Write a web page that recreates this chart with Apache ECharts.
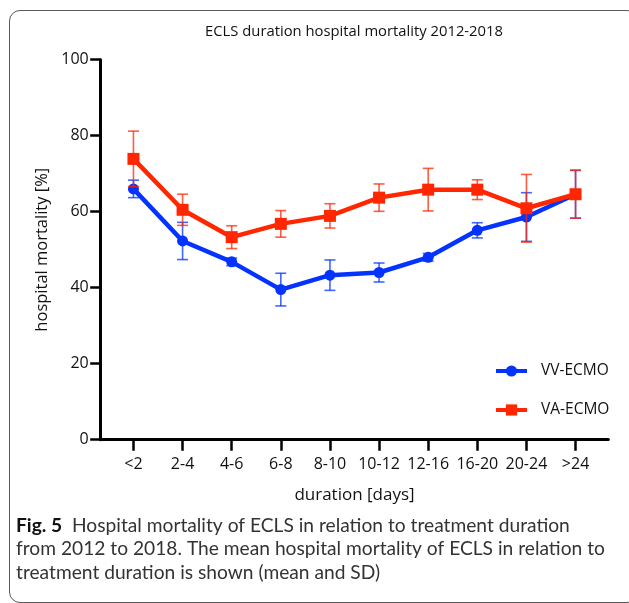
<!DOCTYPE html>
<html>
<head>
<meta charset="utf-8">
<script src="https://cdn.jsdelivr.net/npm/echarts@6/dist/echarts.min.js"></script>
<style>
  html, body { margin: 0; padding: 0; overflow: hidden; background: #fff; }
  #frame {
    position: absolute; left: 9px; top: 10px; width: 627px; height: 591px;
    border: 1.5px solid #5a5a5a; border-radius: 11px;
  }
  #chart { position: absolute; left: 0; top: 0; width: 629px; height: 603px; }
</style>
</head>
<body>
<div id="frame"></div>
<div id="chart"></div>
<script>
// duration groups on the x axis
const categories = ['<2', '2-4', '4-6', '6-8', '8-10', '10-12', '12-16', '16-20', '20-24', '>24'];

// mean hospital mortality [%] and SD per group
const vvMean = [66.0, 52.3, 46.8, 39.5, 43.3, 44.0, 48.0, 55.1, 58.6, 64.6];
const vvSd = [2.3, 4.9, 1.0, 4.3, 4.0, 2.5, 1.0, 2.0, 6.4, 6.3];
const vaMean = [73.9, 60.5, 53.3, 56.8, 58.9, 63.7, 65.8, 65.8, 60.9, 64.6];
const vaSd = [7.3, 4.1, 3.0, 3.5, 3.2, 3.6, 5.6, 2.6, 8.9, 6.3];

const yTicks = [0, 20, 40, 60, 80, 100];

const BLUE = '#0433FF';
const RED = '#FF2600';
const FONT = "'Open Sans', sans-serif";

const idx = categories.map((c, i) => i);
const toPoints = (means) => means.map((m, i) => [i, m]);
const toBars = (means, sds) => means.map((m, i) => [i, m - sds[i], m + sds[i]]);

const errorBar = (color) => (params, api) => {
  const x = api.value(0);
  const lo = api.coord([x, api.value(1)]);
  const hi = api.coord([x, api.value(2)]);
  const half = 5.5;
  const style = { stroke: color, lineWidth: 1.6 };
  return {
    type: 'group',
    children: [
      { type: 'line', shape: { x1: lo[0], y1: lo[1], x2: hi[0], y2: hi[1] }, style },
      { type: 'line', shape: { x1: lo[0] - half, y1: lo[1], x2: lo[0] + half, y2: lo[1] }, style },
      { type: 'line', shape: { x1: hi[0] - half, y1: hi[1], x2: hi[0] + half, y2: hi[1] }, style },
    ],
  };
};

const chart = echarts.init(document.getElementById('chart'), null, { renderer: 'canvas' });

chart.setOption({
  animation: false,
  title: [
    {
      text: 'ECLS duration hospital mortality 2012-2018',
      left: 354,
      textAlign: 'center',
      top: 24,
      padding: 0,
      textStyle: { fontFamily: FONT, fontSize: 14.8, fontWeight: 'normal', color: '#111' },
    },
    {
      text: '{b|Fig. 5}  Hospital mortality of ECLS in relation to treatment duration\n' +
        'from 2012 to 2018. The mean hospital mortality of ECLS in relation to\n' +
        'treatment duration is shown (mean and SD)',
      left: 16,
      top: 514,
      padding: 0,
      textStyle: {
        fontFamily: 'Lato, sans-serif',
        fontSize: 19.2,
        fontWeight: 'normal',
        color: '#333',
        lineHeight: 23.5,
        rich: {
          b: { fontFamily: 'Lato, sans-serif', fontSize: 19.2, fontWeight: 'bold', color: '#111', lineHeight: 23.5 },
        },
      },
    },
  ],
  legend: {
    orient: 'vertical',
    left: 489,
    top: 358,
    itemWidth: 31,
    itemHeight: 14,
    itemGap: 23,
    data: ['VV-ECMO', 'VA-ECMO'],
    lineStyle: { width: 4 },
    textStyle: { fontFamily: FONT, fontSize: 15.5, color: '#111', padding: [0, 0, 0, 9] },
  },
  grid: { left: 100.7, right: 20.7, top: 59.7, bottom: 163.3, containLabel: false },
  xAxis: {
    type: 'value',
    min: -2 / 3,
    max: categories.length - 1 + 2 / 3,
    name: 'duration [days]',
    nameLocation: 'middle',
    nameGap: 47,
    nameTextStyle: { fontFamily: FONT, fontSize: 17, color: '#111' },
    splitLine: { show: false },
    axisLine: { onZero: false, lineStyle: { color: '#000', width: 3 } },
    axisTick: { customValues: idx, length: 11, lineStyle: { color: '#000', width: 2.5 } },
    axisLabel: {
      customValues: idx,
      formatter: (v) => categories[Math.round(v)],
      margin: 17,
      fontFamily: FONT,
      fontSize: 16,
      color: '#111',
    },
  },
  yAxis: {
    type: 'value',
    min: yTicks[0],
    max: yTicks[yTicks.length - 1],
    interval: 20,
    name: 'hospital mortality [%]',
    nameLocation: 'middle',
    nameGap: 47,
    nameRotate: 90,
    nameTextStyle: { fontFamily: FONT, fontSize: 16.5, color: '#111' },
    splitLine: { show: false },
    axisLine: { show: true, onZero: false, lineStyle: { color: '#000', width: 3 } },
    axisTick: { show: true, length: 10.5, lineStyle: { color: '#000', width: 2.5 } },
    axisLabel: { margin: 12, fontFamily: FONT, fontSize: 16, color: '#111' },
  },
  series: [
    {
      name: 'VV-ECMO SD',
      type: 'custom',
      renderItem: errorBar('rgba(4,51,255,0.75)'),
      encode: { x: 0, y: [1, 2] },
      data: toBars(vvMean, vvSd),
      z: 2,
    },
    {
      name: 'VV-ECMO',
      type: 'line',
      data: toPoints(vvMean),
      symbol: 'circle',
      symbolSize: 11,
      lineStyle: { color: BLUE, width: 4.5 },
      itemStyle: { color: BLUE },
      z: 3,
    },
    {
      name: 'VA-ECMO SD',
      type: 'custom',
      renderItem: errorBar('rgba(255,38,0,0.75)'),
      encode: { x: 0, y: [1, 2] },
      data: toBars(vaMean, vaSd),
      z: 4,
    },
    {
      name: 'VA-ECMO',
      type: 'line',
      data: toPoints(vaMean),
      symbol: 'rect',
      symbolSize: 12,
      lineStyle: { color: RED, width: 4.5 },
      itemStyle: { color: RED },
      z: 5,
    },
  ],
});
</script>
</body>
</html>
